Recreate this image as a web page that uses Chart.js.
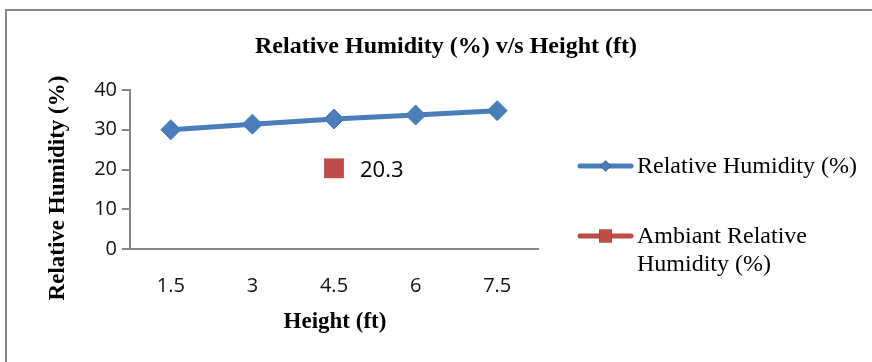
<!DOCTYPE html>
<html>
<head>
<meta charset="utf-8">
<script src="https://cdn.jsdelivr.net/npm/chart.js@4.4.1/dist/chart.umd.min.js"></script>
<style>
  html, body { margin: 0; padding: 0; background: #fff; overflow: hidden; }
  #wrap { position: relative; width: 872px; height: 362px; }
</style>
</head>
<body>
<div id="wrap"><canvas id="c" width="872" height="362"></canvas></div>
<script>
// Heights (ft) along the x axis
const heights = ['1.5', '3', '4.5', '6', '7.5'];
// Measured relative humidity at each height (%)
const relativeHumidity = [30.0, 31.4, 32.7, 33.7, 34.8];
// Ambient relative humidity, a single reading shown at 4.5 ft
const ambientHumidity = [null, null, 20.3, null, null];
// Y axis ticks
const yTicks = [0, 10, 20, 30, 40];

const chartTitle = 'Relative Humidity (%) v/s Height (ft)';
const xTitle = 'Height (ft)';
const yTitle = 'Relative Humidity (%)';
const seriesNames = ['Relative Humidity (%)', ['Ambiant Relative', 'Humidity (%)']];

const BLUE = '#4A7EBB';
const RED = '#BE4B48';
const AXIS = '#868686';
const SERIF = '"Liberation Serif", "Times New Roman", serif';
const SANS = '"Open Sans", "Liberation Sans", sans-serif';

// Frame, titles, data label and legend drawn on the canvas
const decorations = {
  id: 'decorations',
  beforeDraw(chart) {
    const ctx = chart.ctx;
    ctx.save();
    ctx.strokeStyle = AXIS;
    ctx.lineWidth = 2;
    ctx.beginPath();
    ctx.moveTo(6, 400);
    ctx.lineTo(6, 10);
    ctx.lineTo(900, 10);
    ctx.stroke();
    ctx.restore();
  },
  afterDraw(chart) {
    const ctx = chart.ctx;
    ctx.save();
    ctx.fillStyle = '#000';
    ctx.textAlign = 'center';
    ctx.textBaseline = 'middle';

    // chart title
    ctx.font = 'bold 24px ' + SERIF;
    ctx.fillText(chartTitle, 446, 47);

    // x axis title
    ctx.font = 'bold 23px ' + SERIF;
    ctx.fillText(xTitle, 335, 322);

    // y axis title
    ctx.save();
    ctx.translate(58, 188);
    ctx.rotate(-Math.PI / 2);
    ctx.fillText(yTitle, 0, 0);
    ctx.restore();

    // value label beside the ambient point
    const meta = chart.getDatasetMeta(1);
    ambientHumidity.forEach((v, i) => {
      if (v === null) return;
      const pt = meta.data[i];
      ctx.font = '22px ' + SANS;
      ctx.textAlign = 'left';
      ctx.fillStyle = '#000';
      ctx.fillText(v.toFixed(1), pt.x + 26, pt.y + 2);
    });

    // legend
    const items = [
      { y: 166, color: BLUE, style: 'rectRot', r: 5.5, text: seriesNames[0] },
      { y: 236, color: RED, style: 'rect', r: 9, text: seriesNames[1] }
    ];
    items.forEach(it => {
      ctx.strokeStyle = it.color;
      ctx.lineWidth = 5;
      ctx.lineCap = 'round';
      ctx.beginPath();
      ctx.moveTo(580, it.y);
      ctx.lineTo(631, it.y);
      ctx.stroke();
      Chart.helpers.drawPoint(ctx, { pointStyle: it.style, radius: it.r, borderWidth: 0, rotation: 0 }, 605.5, it.y);
      ctx.fillStyle = it.color;
      ctx.fill();
      ctx.fillStyle = '#000';
      ctx.font = '24px ' + SERIF;
      ctx.textAlign = 'left';
      const lines = Array.isArray(it.text) ? it.text : [it.text];
      lines.forEach((ln, k) => ctx.fillText(ln, 637, it.y + 1 + k * 28));
    });
    ctx.restore();
  }
};

new Chart(document.getElementById('c'), {
  type: 'line',
  data: {
    labels: heights,
    datasets: [
      {
        label: 'Relative Humidity (%)',
        data: relativeHumidity,
        borderColor: BLUE,
        backgroundColor: BLUE,
        borderWidth: 5,
        pointStyle: 'rectRot',
        pointRadius: 10,
        pointBorderWidth: 1,
        tension: 0
      },
      {
        label: 'Ambiant Relative Humidity (%)',
        data: ambientHumidity,
        borderColor: RED,
        backgroundColor: RED,
        borderWidth: 5,
        pointStyle: 'rect',
        pointRadius: 14,
        pointBorderWidth: 0,
        spanGaps: false
      }
    ]
  },
  options: {
    responsive: false,
    animation: false,
    layout: { padding: { top: 90, right: 334, left: 0, bottom: 0 } },
    plugins: {
      legend: { display: false },
      title: { display: false },
      tooltip: { enabled: false }
    },
    scales: {
      x: {
        type: 'category',
        offset: true,
        grid: { display: false, drawTicks: false },
        border: { display: true, color: AXIS, width: 2 },
        ticks: { color: '#111', font: { family: SANS, size: 20 }, padding: 25, maxRotation: 0 },
        afterFit(scale) { scale.height = 113; }
      },
      y: {
        min: 0,
        max: 40,
        afterBuildTicks(scale) { scale.ticks = yTicks.map(v => ({ value: v })); },
        grid: { display: true, drawOnChartArea: false, drawTicks: true, tickLength: 8, color: AXIS, lineWidth: 2 },
        border: { display: true, color: AXIS, width: 2 },
        ticks: { color: '#111', font: { family: SANS, size: 20 }, padding: 5 },
        afterFit(scale) { scale.width = 130; }
      }
    }
  },
  plugins: [decorations]
});
</script>
</body>
</html>
